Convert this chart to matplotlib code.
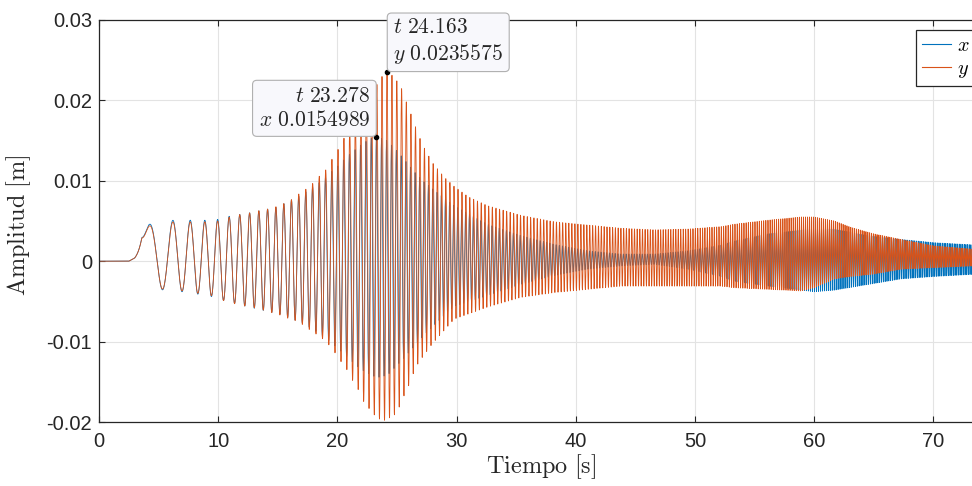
import numpy as np
import matplotlib
matplotlib.use("Agg")
import matplotlib.pyplot as plt
from matplotlib.ticker import FixedLocator, FixedFormatter

# ---------------------------------------------------------------------------
# Sweep frequency of the excitation [Hz]
freq_t = [0, 10, 20, 30, 40, 50, 60, 70, 75]
freq_hz = [0.0, 0.99, 1.98, 2.97, 3.96, 4.95, 5.94, 6.93, 7.43]

# Response envelopes [m]: upper (hi) and lower (lo) bounds of each signal
y_hi_t = [0, 2.5, 3.0, 3.6, 4.25, 6.25, 7.7, 8.9, 9.95, 10.95, 11.8, 12.6,
          13.45, 14.2, 14.9, 15.55, 16.2, 16.8, 17.4, 17.95, 18.5, 19.05,
          19.55, 20.05, 20.5, 21.0, 21.5, 22.0, 22.5, 23.0, 23.4, 23.8,
          24.163, 24.6, 25.0, 25.45, 25.85, 26.25, 26.65, 27.0, 27.35, 28.0,
          29.0, 29.8, 31.0, 32.6, 35.4, 38.2, 41.0, 43.8, 46.6, 49.4, 52.2,
          53.3, 56.1, 58.9, 60.0, 61.7, 63.1, 65.0, 67.3, 70.1, 75.0]
y_hi = [0, 0, 0.0008, 0.0045, 0.0044, 0.0049, 0.0049, 0.0049, 0.0050,
        0.0055, 0.0058, 0.0060, 0.0063, 0.0065, 0.0068, 0.0072, 0.0077,
        0.0084, 0.0090, 0.0097, 0.0106, 0.0114, 0.0127, 0.0139, 0.0152,
        0.0162, 0.0173, 0.0185, 0.0199, 0.0212, 0.0222, 0.0231, 0.0235575,
        0.0231, 0.0224, 0.0213, 0.0195, 0.0180, 0.0163, 0.0150, 0.0139,
        0.0122, 0.0104, 0.0093, 0.0080, 0.0069, 0.0057, 0.0049, 0.0045,
        0.0041, 0.0039, 0.0040, 0.0043, 0.0046, 0.0051, 0.0055, 0.0055,
        0.0050, 0.0042, 0.0034, 0.0027, 0.0019, 0.0013]
y_lo_t = [0, 2.5, 3.0, 3.6, 4.25, 5.4, 7.0, 8.3, 9.45, 10.45, 11.4, 12.3,
          13.05, 13.8, 14.5, 15.2, 15.85, 16.5, 17.1, 17.65, 18.25, 18.8,
          19.35, 19.85, 20.35, 20.85, 21.3, 21.8, 22.25, 22.7, 23.2, 23.6,
          24.05, 24.45, 24.9, 25.3, 25.65, 26.1, 26.5, 26.9, 27.2, 28.0,
          29.8, 32.6, 35.4, 38.2, 41.0, 43.8, 46.6, 49.4, 52.2, 53.3, 56.1,
          58.9, 60.0, 61.7, 63.1, 65.0, 67.3, 70.1, 75.0]
y_lo = [0, 0, 0.0004, 0.0015, -0.0030, -0.0035, -0.0037, -0.0040, -0.0043,
        -0.0049, -0.0053, -0.0056, -0.0058, -0.0061, -0.0064, -0.0067,
        -0.0071, -0.0074, -0.0079, -0.0085, -0.0091, -0.0097, -0.0105,
        -0.0115, -0.0126, -0.0136, -0.0149, -0.0161, -0.0176, -0.0184,
        -0.0193, -0.0197, -0.0198, -0.0194, -0.0190, -0.0178, -0.0165,
        -0.0151, -0.0134, -0.0124, -0.0118, -0.0102, -0.0072, -0.0057,
        -0.0045, -0.0039, -0.0035, -0.0031, -0.0031, -0.0031, -0.0031,
        -0.0033, -0.0035, -0.0037, -0.0033, -0.0022, -0.0019, -0.0016,
        -0.0010, -0.0008, -0.0005]

x_hi_t = [0, 2.5, 3.0, 3.6, 4.25, 6.25, 7.7, 8.9, 9.95, 10.95, 12.6, 14.9,
          16.8, 18.5, 20.0, 21.0, 22.0, 22.7, 23.278, 24.2, 25.3, 26.7,
          27.4, 29.8, 32.6, 35.4, 38.2, 41.0, 43.8, 46.6, 49.4, 52.2, 53.3,
          56.1, 59.7, 61.7, 64.5, 67.3, 70.1, 75.0]
x_hi = [0, 0, 0.0008, 0.0046, 0.0046, 0.0051, 0.0051, 0.0051, 0.0052,
        0.0056, 0.0060, 0.0067, 0.0081, 0.0098, 0.0118, 0.0133, 0.0145,
        0.0152, 0.0154989, 0.0150, 0.0132, 0.0107, 0.0097, 0.0069, 0.0046,
        0.0032, 0.0021, 0.0013, 0.0009, 0.0009, 0.0013, 0.0020, 0.0025,
        0.0034, 0.0040, 0.0040, 0.0032, 0.0027, 0.0023, 0.0019]
x_lo_t = [0, 2.5, 3.0, 3.6, 4.25, 5.4, 7.0, 8.3, 9.45, 10.45, 12.3, 15.2,
          17.1, 18.8, 20.0, 21.0, 22.0, 23.3, 24.2, 25.3, 26.7, 27.4, 29.8,
          32.6, 35.4, 38.2, 41.0, 43.8, 46.6, 49.4, 52.2, 53.3, 56.1, 60.0,
          61.7, 64.5, 67.3, 70.1, 75.0]
x_lo = [0, 0, 0.0004, 0.0015, -0.0030, -0.0036, -0.0038, -0.0041, -0.0044,
        -0.0049, -0.0056, -0.0066, -0.0077, -0.0093, -0.0108, -0.0122,
        -0.0135, -0.0145, -0.0142, -0.0125, -0.0102, -0.0090, -0.0056,
        -0.0043, -0.0029, -0.0018, -0.0010, -0.0006, -0.0004, -0.0010,
        -0.0019, -0.0025, -0.0031, -0.0038, -0.0036, -0.0029, -0.0022,
        -0.0019, -0.0015]

# Phase lead of x relative to y [cycles]
x_lag_t = [0, 17, 23.3, 75]
x_lag = [0, 0, -0.078, -0.078]

# Data tips (t, value)
tip_x = (23.278, 0.0154989)
tip_y = (24.163, 0.0235575)

x_ticks = [0, 10, 20, 30, 40, 50, 60, 70]
y_ticks = [-0.02, -0.01, 0, 0.01, 0.02, 0.03]
y_tick_labels = ["-0.02", "-0.01", "0", "0.01", "0.02", "0.03"]

# ---------------------------------------------------------------------------
plt.rcParams["mathtext.fontset"] = "cm"
plt.rcParams["axes.unicode_minus"] = False

t = np.union1d(np.arange(0.0, 75.0, 0.001), [tip_x[0], tip_y[0]])
f = np.interp(t, freq_t, freq_hz)
phase = 2 * np.pi * np.concatenate(([0.0], np.cumsum(0.5 * (f[1:] + f[:-1]) * np.diff(t))))


def response(hi_t, hi, lo_t, lo, ph, t_peak):
    upper = np.interp(t, hi_t, hi)
    lower = np.interp(t, lo_t, lo)
    mid = 0.5 * (upper + lower)
    half = 0.5 * (upper - lower)
    ph0 = np.interp(t_peak, t, ph)
    return mid + half * np.cos(ph - ph0)


phase_x = phase - 2 * np.pi * np.interp(t, x_lag_t, x_lag)
sig_y = response(y_hi_t, y_hi, y_lo_t, y_lo, phase, tip_y[0])
sig_x = response(x_hi_t, x_hi, x_lo_t, x_lo, phase_x, tip_x[0])

BLUE = "#0072BD"
ORANGE = "#D95319"
DARK = "#262626"

fig = plt.figure(figsize=(9.72, 4.86), dpi=100)
W, H = 972, 486
ax = fig.add_axes([99 / W, 64 / H, 894 / W, 402 / H])

lx, = ax.plot(t, sig_x, color=BLUE, lw=0.6, label="$x$")
ly, = ax.plot(t, sig_y, color=ORANGE, lw=0.6, label="$y$")

ax.set_xlim(0, 75)
ax.set_ylim(-0.02, 0.03)
ax.xaxis.set_major_locator(FixedLocator(x_ticks))
ax.yaxis.set_major_locator(FixedLocator(y_ticks))
ax.yaxis.set_major_formatter(FixedFormatter(y_tick_labels))
ax.set_axisbelow(True)
ax.grid(True, color="#e3e3e3", lw=0.8)
for s in ax.spines.values():
    s.set_color(DARK)
    s.set_linewidth(0.9)
ax.tick_params(direction="in", length=4, width=0.8, color=DARK,
               top=True, right=True, labelsize=14.5, labelcolor=DARK)
ax.tick_params(axis="x", pad=7)
ax.tick_params(axis="y", pad=5)
for lab in ax.get_xticklabels() + ax.get_yticklabels():
    lab.set_fontfamily("Liberation Sans")

ax.set_xlabel(r"$\mathrm{Tiempo\ [s]}$", fontsize=17.5, color=DARK)
ax.set_ylabel(r"$\mathrm{Amplitud\ [m]}$", fontsize=17.5, color=DARK)
ax.xaxis.set_label_coords(0.494, -0.075)
ax.yaxis.set_label_coords(-0.074, 0.49)

# Data tips
tip_box = dict(boxstyle="round,pad=0.28,rounding_size=0.2", fc="#f8f8fc",
               ec="#b0b0b0", lw=0.8)
for (tt, vv), txt, ha, dx in [
        (tip_x, "$t\\ 23.278$\n$x\\ 0.0154989$", "right", -1),
        (tip_y, "$t\\ 24.163$\n$y\\ 0.0235575$", "left", 1)]:
    ax.plot([tt], [vv], "o", color="black", ms=3, zorder=6)
    ax.annotate(txt, xy=(tt, vv), xytext=(dx * 4.5, 4.5),
                textcoords="offset points", ha=ha, va="bottom",
                multialignment=ha, fontsize=15.5, color=DARK,
                bbox=tip_box, zorder=7, linespacing=1.25)

leg = fig.legend(handles=[lx, ly], loc="upper left",
                 bbox_to_anchor=(916 / W, 1 - 30 / H), borderaxespad=0,
                 fancybox=False, framealpha=1, edgecolor=DARK,
                 fontsize=14.5, handlelength=1.45, handletextpad=0.3,
                 labelspacing=0.2, borderpad=0.3)
leg.get_frame().set_linewidth(0.9)
for h in leg.legend_handles:
    h.set_linewidth(0.8)

fig.savefig("out.png", dpi=100)
